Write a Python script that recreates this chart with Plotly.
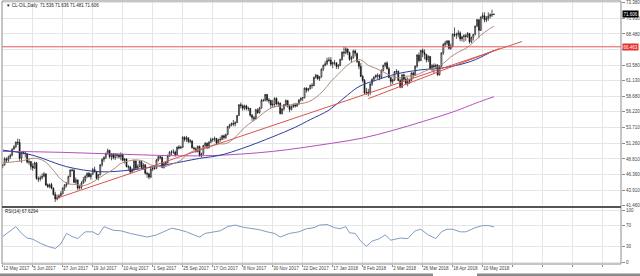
import plotly.graph_objects as go

# ---------------- data ----------------
date_labels = ["12 May 2017", "5 Jun 2017", "27 Jun 2017", "19 Jul 2017", "10 Aug 2017",
               "1 Sep 2017", "25 Sep 2017", "17 Oct 2017", "8 Nov 2017", "30 Nov 2017",
               "22 Dec 2017", "17 Jan 2018", "8 Feb 2018", "2 Mar 2018", "26 Mar 2018",
               "18 Apr 2018", "10 May 2018", "", "", "", ""]

# price grid levels; the 66.030 label is hidden behind the red price box in the original
price_levels = [41.46, 43.91, 46.36, 48.81, 51.26, 53.71, 56.22, 58.68, 61.13, 63.58,
                66.03, 68.48, 70.93, 73.38]
price_labels = ["41.460", "43.910", "46.360", "48.810", "51.260", "53.710", "56.220",
                "58.680", "61.130", "63.580", "", "68.480", "70.930", "73.380"]

open_ = [47.80,47.90,48.80,48.60,49.10,49.40,50.40,50.75,51.45,51.40,
         48.95,49.85,49.75,49.60,48.30,48.40,47.70,47.35,48.20,45.70,
         45.65,45.85,46.10,46.45,44.75,44.45,44.80,44.20,43.25,42.50,
         42.75,43.05,43.35,44.25,44.70,44.95,46.05,47.05,47.00,45.15,
         45.50,44.25,44.40,45.05,45.50,46.10,46.55,46.00,46.40,47.15,
         46.80,45.75,46.35,47.90,48.75,49.05,49.70,50.15,49.15,49.60,
         49.05,49.55,49.40,49.15,49.55,48.60,48.80,47.60,47.55,46.80,
         47.10,48.50,47.35,47.65,48.40,47.45,47.90,46.55,46.45,45.95,
         47.25,47.30,47.35,48.65,49.15,49.10,47.50,48.05,48.25,49.30,
         49.90,49.90,49.90,49.50,50.70,50.55,50.65,52.20,51.90,52.15,
         51.55,51.65,50.55,50.40,50.00,50.80,49.30,49.60,50.90,51.30,
         50.60,51.45,51.85,51.90,52.05,51.30,51.85,51.90,52.45,52.20,
         52.65,53.90,54.15,54.40,54.30,54.55,55.65,57.35,57.20,56.80,
         57.15,56.75,56.75,55.70,55.30,55.15,56.55,56.10,56.85,58.00,
         58.00,58.95,58.10,58.00,57.30,57.40,58.35,57.45,57.60,55.95,
         56.70,57.35,58.00,57.15,56.60,57.05,57.30,57.15,57.45,58.10,
         58.35,58.45,59.95,59.65,59.85,60.40,60.35,61.65,62.00,61.45,
         61.75,62.95,63.55,63.80,64.30,64.40,63.75,63.95,63.95,63.35,
         63.55,64.45,65.60,65.50,66.10,65.55,64.50,64.75,65.80,65.40,
         64.15,63.40,61.80,61.15,59.25,59.30,59.20,60.60,61.35,61.70,
         62.00,61.90,61.65,62.75,63.55,63.90,63.00,61.60,61.00,61.25,
         62.55,62.60,61.15,60.10,62.05,61.35,60.70,60.95,61.20,62.35,
         62.05,63.40,65.15,64.30,65.90,65.55,65.25,64.40,64.95,63.00,
         63.50,63.35,63.55,62.05,63.40,65.50,66.80,67.05,67.40,66.20,
         66.50,68.45,68.30,68.35,68.65,67.70,68.05,68.20,68.10,68.55,
         67.25,67.95,68.45,69.75,70.70,69.05,71.15,71.35,70.70,70.95,
         71.30,71.50,71.536]

high = [48.00,49.10,49.05,49.35,49.65,50.50,51.00,51.55,52.00,51.95,
        49.95,50.10,50.05,49.70,48.90,48.45,48.15,48.40,48.35,46.05,
        46.20,46.55,46.75,46.55,44.95,44.95,45.05,44.35,43.65,43.20,
        43.25,43.75,44.35,44.85,45.20,46.20,47.20,47.30,47.30,45.90,
        45.60,44.75,45.30,46.00,46.25,46.70,46.75,46.60,47.40,47.60,
        46.95,46.45,48.00,48.90,49.25,49.80,50.45,50.25,49.75,49.75,
        49.70,49.70,49.70,49.85,49.65,48.95,48.90,47.85,47.75,47.35,
        48.70,48.55,47.95,48.60,48.55,48.15,47.95,46.80,46.65,47.40,
        47.60,47.55,48.80,49.40,49.40,49.20,48.30,48.50,49.50,50.05,
        50.20,50.35,50.15,50.75,51.00,50.90,52.40,52.40,52.45,52.20,
        51.95,51.75,50.75,50.65,50.95,50.90,49.80,51.05,51.45,51.40,
        51.60,52.20,52.10,52.35,52.10,52.00,52.30,52.60,52.65,52.80,
        54.00,54.35,54.55,54.95,54.75,55.75,57.40,57.70,57.40,57.35,
        57.35,57.05,56.85,55.90,55.60,56.70,56.80,57.00,58.25,58.30,
        59.05,59.05,58.40,58.15,58.10,58.50,58.50,57.90,57.70,56.80,
        57.45,58.20,58.05,57.40,57.25,57.55,57.65,57.65,58.20,58.50,
        58.55,60.05,60.10,60.00,60.50,60.75,61.80,62.20,62.05,61.85,
        63.05,63.65,64.20,64.75,64.85,64.85,64.10,64.40,64.00,63.75,
        64.60,65.75,66.40,66.40,66.20,65.70,65.05,66.00,66.05,65.55,
        64.25,63.90,62.05,61.40,60.00,59.85,60.80,61.50,61.85,62.10,
        62.30,62.15,62.90,63.65,64.05,64.20,63.30,61.80,61.45,62.65,
        62.95,62.75,61.45,62.15,62.25,61.70,61.65,61.45,62.45,62.50,
        63.55,65.30,65.55,66.00,66.20,66.05,65.35,65.15,65.00,63.75,
        63.85,63.80,63.75,63.55,65.60,67.05,67.40,67.50,67.45,66.95,
        68.55,69.50,68.70,69.10,68.90,68.20,68.45,68.50,68.80,68.60,
        68.10,68.50,69.80,70.85,70.80,71.25,71.85,71.90,71.30,71.90,
        71.75,72.30,71.636]

low = [47.35,47.75,48.30,48.25,48.80,49.25,50.20,50.50,51.00,48.45,
       48.20,49.55,49.05,48.10,47.90,47.10,46.95,47.30,45.55,45.20,
       45.30,45.60,45.95,44.55,44.25,44.20,44.05,43.05,42.05,42.30,
       42.55,42.90,43.25,43.80,44.35,44.80,45.95,46.85,45.05,44.85,
       43.90,44.00,44.10,44.90,45.15,45.80,45.95,45.55,46.30,46.65,
       45.50,45.45,46.25,47.60,48.35,48.80,49.50,48.90,48.60,48.75,
       48.65,48.95,48.90,48.60,48.45,48.10,47.50,47.05,46.45,46.65,
       46.90,47.20,47.10,47.50,47.30,47.10,46.35,45.85,45.60,45.80,
       46.90,47.10,47.20,48.40,48.75,47.35,47.30,47.75,48.10,49.15,
       49.40,49.60,49.20,49.40,50.30,50.35,50.55,51.55,51.50,51.30,
       51.30,50.45,50.25,49.80,49.85,49.20,49.05,49.45,50.70,50.35,
       50.45,51.30,51.50,51.55,51.00,51.15,51.50,51.75,51.85,51.95,
       52.55,53.60,53.95,53.95,53.95,54.45,55.60,56.75,56.40,56.50,
       56.45,56.35,55.45,54.80,54.85,55.05,55.90,55.95,56.70,57.85,
       57.90,57.80,57.55,56.75,56.90,56.95,57.25,57.00,55.80,55.80,
       56.40,57.10,56.90,56.15,56.45,56.85,56.90,57.00,57.35,57.85,
       57.95,58.35,59.25,59.40,59.75,59.90,60.25,61.45,61.25,61.10,
       61.60,62.65,63.40,63.55,64.10,63.40,63.10,63.55,63.00,62.95,
       63.40,64.30,64.90,65.30,65.15,64.25,63.95,64.60,64.95,63.90,
       62.95,61.70,60.85,58.95,58.90,58.70,58.85,60.30,61.00,61.50,
       61.40,61.20,61.40,62.60,63.25,62.90,61.50,60.40,60.60,61.10,
       62.20,61.05,59.95,59.95,61.10,60.55,60.25,60.60,61.05,61.50,
       61.85,63.20,64.00,64.20,64.85,64.50,64.00,64.05,62.85,62.60,
       62.30,62.95,61.85,61.95,63.30,65.20,66.40,66.70,66.05,66.00,
       66.40,68.00,67.70,67.95,67.35,67.30,67.20,67.40,67.85,66.95,
       67.05,67.45,68.25,69.55,67.80,68.95,70.85,70.30,70.35,70.55,
       70.90,71.15,71.481]

close = [47.84,48.85,48.66,49.07,49.35,50.33,50.73,51.47,51.36,48.90,
         49.80,49.75,49.66,48.32,48.36,47.66,47.40,48.19,45.72,45.64,
         45.83,46.08,46.46,44.73,44.46,44.74,44.20,43.23,42.53,42.74,
         43.01,43.38,44.24,44.74,44.93,46.04,47.07,47.00,45.13,45.52,
         44.23,44.40,45.04,45.49,46.08,46.54,46.02,46.40,47.12,46.79,
         45.77,46.34,47.89,48.75,49.04,49.71,50.17,49.16,49.59,49.03,
         49.58,49.39,49.17,49.56,48.59,48.82,47.59,47.55,46.78,47.09,
         48.51,47.37,47.64,48.41,47.43,47.87,46.57,46.44,45.96,47.23,
         47.29,47.35,48.66,49.16,49.09,47.48,48.07,48.23,49.30,49.89,
         49.89,49.91,49.48,50.69,50.55,50.66,52.22,51.88,52.14,51.56,
         51.67,50.58,50.42,49.98,50.79,49.29,49.58,50.92,51.30,50.60,
         51.45,51.87,51.88,52.04,51.29,51.84,51.90,52.47,52.18,52.64,
         53.90,54.15,54.38,54.30,54.54,55.64,57.35,57.20,56.81,57.17,
         56.74,56.76,55.70,55.33,55.14,56.55,56.09,56.83,58.02,58.00,
         58.95,58.11,57.99,57.30,57.40,58.36,57.47,57.62,55.96,56.69,
         57.36,57.99,57.14,56.60,57.04,57.30,57.16,57.46,58.09,58.36,
         58.47,59.97,59.64,59.84,60.42,60.37,61.63,62.01,61.44,61.73,
         62.96,63.57,63.80,64.30,64.40,63.73,63.97,63.95,63.37,63.57,
         64.47,65.61,65.51,66.14,65.56,64.50,64.73,65.80,65.45,64.15,
         63.39,61.79,61.15,59.20,59.29,59.19,60.60,61.34,61.68,62.00,
         61.90,61.68,62.77,63.55,63.91,63.01,61.64,60.99,61.25,62.57,
         62.60,61.15,60.12,62.04,61.36,60.71,60.96,61.19,62.34,62.06,
         63.40,65.17,64.30,65.88,65.55,65.25,64.38,64.94,63.01,63.51,
         63.37,63.54,62.06,63.42,65.51,66.82,67.07,67.39,66.22,66.52,
         68.47,68.29,68.38,68.64,67.70,68.05,68.19,68.10,68.57,67.25,
         67.93,68.43,69.72,70.73,69.06,71.14,71.36,70.70,70.96,71.31,
         71.49,71.49,71.606]

# moving averages (bar index, value)
ma_fast_idx = [0, 3, 7, 11, 15, 19, 23, 27, 31, 35, 39, 43, 47, 51, 55, 59, 63, 67, 71, 75,
               79, 83, 87, 91, 95, 99, 103, 107, 111, 115, 119, 123, 127, 131, 135, 139,
               143, 147, 151, 155, 159, 163, 167, 171, 175, 179, 183, 187, 191, 195, 199,
               203, 207, 211, 215, 219, 223, 227, 231, 235, 239, 243, 247, 251, 255, 259, 262]
ma_fast_val = [48.20, 48.27, 48.41, 48.54, 48.88, 48.85, 48.29, 47.02, 45.62, 44.91, 44.80,
               44.61, 45.03, 45.74, 46.52, 47.18, 48.11, 48.48, 48.67, 48.47, 47.88, 47.62,
               47.63, 48.09, 48.60, 49.68, 50.18, 50.57, 50.88, 51.17, 51.23, 51.94, 53.15,
               54.26, 55.04, 56.03, 56.81, 57.12, 57.14, 57.41, 57.52, 57.80, 58.48, 59.56,
               60.97, 62.16, 63.35, 64.16, 64.41, 63.54, 63.08, 62.49, 61.93, 61.57, 61.84,
               61.89, 62.33, 62.86, 63.15, 63.83, 64.87, 65.62, 66.21, 67.15, 68.29, 69.15,
               69.70]

ma_mid_idx = [0, 16, 34, 52, 69, 87, 105, 116, 128, 144, 156, 164, 174, 182, 190, 200,
              210, 222, 236, 250, 262]
ma_mid_val = [50.2, 49.4, 47.6, 46.8, 47.1, 47.9, 48.9, 49.4, 50.5, 52.3, 53.8, 55.0,
              56.5, 58.4, 60.2, 61.3, 62.2, 62.8, 63.2, 64.2, 65.9]

ma_slow_idx = [0, 16, 32, 48, 64, 80, 96, 112, 128, 144, 160, 176, 192, 208, 224, 240, 256, 262]
ma_slow_val = [50.0, 49.95, 49.85, 49.7, 49.55, 49.4, 49.3, 49.35, 49.6, 50.0, 50.6, 51.3,
               52.1, 53.3, 54.7, 56.2, 58.0, 58.6]

trend1_idx = [28.5, 277]
trend1_val = [42.6, 67.3]
trend2_idx = [195, 265]
trend2_val = [58.3, 66.2]

resistance = 66.463
last_price = 71.606

rsi_idx = [0, 4, 7, 10, 13, 16, 20, 24, 28, 31, 34, 37, 40, 44, 48, 51, 54, 59, 63, 68,
           72, 77, 82, 86, 90, 94, 98, 102, 105, 108, 112, 116, 120, 124, 128, 133, 137,
           141, 145, 148, 153, 158, 162, 166, 169, 173, 177, 180, 183, 185, 188, 191, 194,
           197, 201, 204, 207, 212, 216, 220, 223, 227, 231, 234, 237, 240, 244, 247, 252,
           256, 259, 262]
rsi_val = [49, 60, 68, 55, 46, 44, 36, 30, 26, 35, 55, 49, 45, 58, 58, 52, 68, 61, 60, 55,
           52, 48, 52, 58, 65, 62, 58, 52, 48, 55, 58, 60, 68, 71, 67, 65, 62, 58, 55, 48,
           55, 58, 64, 66, 71, 72, 66, 64, 68, 56, 55, 40, 30, 40, 45, 52, 42, 46, 45, 60,
           63, 52, 45, 58, 63, 63, 58, 58, 66, 70, 70, 67.63]
rsi_levels = [0, 30, 70, 100]

# ---------------- layout helpers ----------------
W, H = 640, 276
ML, MR, MT, MB = 2, 19, 1, 12
PW, PH = W - ML - MR, H - MT - MB


def py(pix):
    return (H - MB - pix) / PH


def px(pix):
    return (pix - ML) / PW


FONT = "Liberation Sans, Arial, sans-serif"
bars = list(range(len(close)))
tick_pos = [16 * k for k in range(len(date_labels))]

fig = go.Figure()
fig.add_trace(go.Candlestick(
    x=bars, open=open_, high=high, low=low, close=close,
    increasing=dict(line=dict(color="#111111", width=0.7), fillcolor="#ffffff"),
    decreasing=dict(line=dict(color="#111111", width=0.7), fillcolor="#111111"),
    whiskerwidth=0, showlegend=False, hoverinfo="skip", xaxis="x", yaxis="y"))

fig.add_trace(go.Scatter(x=ma_slow_idx, y=ma_slow_val, mode="lines", line_shape="spline",
                         line=dict(color="#b64fc0", width=1), xaxis="x", yaxis="y"))
fig.add_trace(go.Scatter(x=ma_mid_idx, y=ma_mid_val, mode="lines", line_shape="spline",
                         line=dict(color="#2a3f9a", width=1), xaxis="x", yaxis="y"))
fig.add_trace(go.Scatter(x=ma_fast_idx, y=ma_fast_val, mode="lines", line_shape="spline",
                         line=dict(color="#b08a7e", width=1), xaxis="x", yaxis="y"))
fig.add_trace(go.Scatter(x=trend1_idx, y=trend1_val, mode="lines",
                         line=dict(color="#d9534f", width=1), xaxis="x", yaxis="y"))
fig.add_trace(go.Scatter(x=trend2_idx, y=trend2_val, mode="lines",
                         line=dict(color="#d9534f", width=1), xaxis="x", yaxis="y"))
fig.add_trace(go.Scatter(x=rsi_idx, y=rsi_val, mode="lines",
                         line=dict(color="#7f9cc4", width=1), xaxis="x", yaxis="y2"))

shapes = [
    dict(type="line", xref="paper", yref="y", x0=0, x1=1, y0=resistance, y1=resistance,
         line=dict(color="#e05a5a", width=1)),
    dict(type="rect", xref="paper", yref="paper", x0=0, x1=1, y0=0, y1=1,
         line=dict(color="#8c8c8c", width=1)),
    dict(type="line", xref="paper", yref="paper", x0=0, x1=1, y0=py(207), y1=py(207),
         line=dict(color="#555555", width=2)),
    dict(type="rect", xref="paper", yref="paper", x0=px(0), x1=px(433), y0=py(276),
         y1=py(273.5), line=dict(width=0), fillcolor="#8a8a8a"),
    dict(type="rect", xref="paper", yref="paper", x0=px(477), x1=px(640), y0=py(276),
         y1=py(273.5), line=dict(width=0), fillcolor="#8a8a8a"),
]

annotations = [
    dict(text="\u25bc CL-OIL,Daily  71.536 71.636 71.481 71.606", xref="paper", yref="paper",
         x=px(4), y=py(5), xanchor="left", yanchor="middle", showarrow=False,
         font=dict(family=FONT, size=4.5, color="#222222")),
    dict(text="RSI(14) 67.6294", xref="paper", yref="paper", x=px(3), y=py(211.5),
         xanchor="left", yanchor="middle", showarrow=False,
         font=dict(family=FONT, size=4.5, color="#222222")),
    dict(text="%.3f" % last_price, xref="paper", yref="y", x=1, y=last_price,
         xanchor="left", yanchor="middle", xshift=1, showarrow=False, bgcolor="#000000",
         borderpad=0.5, font=dict(family=FONT, size=4.5, color="#ffffff")),
    dict(text="%.3f" % resistance, xref="paper", yref="y", x=1, y=resistance,
         xanchor="left", yanchor="middle", xshift=1, showarrow=False, bgcolor="#e8302b",
         borderpad=0.5, font=dict(family=FONT, size=4.5, color="#ffffff")),
]

fig.update_layout(
    width=W, height=H, margin=dict(l=ML, r=MR, t=MT, b=MB),
    paper_bgcolor="#ffffff", plot_bgcolor="#ffffff", showlegend=False,
    font=dict(family=FONT, size=4.5, color="#444444"),
    shapes=shapes, annotations=annotations,
    xaxis=dict(range=[-0.4, 329.8], anchor="y2", tickmode="array", tickvals=tick_pos,
               ticktext=date_labels, ticklabelposition="outside right", tickangle=0,
               ticks="outside", ticklen=2, tickcolor="#8c8c8c",
               showgrid=True, gridcolor="#e6e6e6", gridwidth=1, zeroline=False,
               showline=False, rangeslider=dict(visible=False),
               tickfont=dict(family=FONT, size=4.5, color="#444444")),
    yaxis=dict(domain=[py(206), 1], range=[41.41, 73.67], side="right", anchor="x",
               tickmode="array", tickvals=price_levels,
               ticktext=price_labels, ticks="outside", ticklen=3, tickcolor="#8c8c8c",
               showgrid=True, gridcolor="#e6e6e6", zeroline=False, showline=False,
               tickfont=dict(family=FONT, size=4.5, color="#444444")),
    yaxis2=dict(domain=[0, py(208)], range=[-3.85, 103.85], side="right", anchor="x",
                tickmode="array", tickvals=rsi_levels, ticktext=[str(v) for v in rsi_levels],
                ticks="outside", ticklen=3, tickcolor="#8c8c8c",
                showgrid=True, gridcolor="#e6e6e6", zeroline=False, showline=False,
                tickfont=dict(family=FONT, size=4.5, color="#444444")),
)

fig.write_html("out.html")
